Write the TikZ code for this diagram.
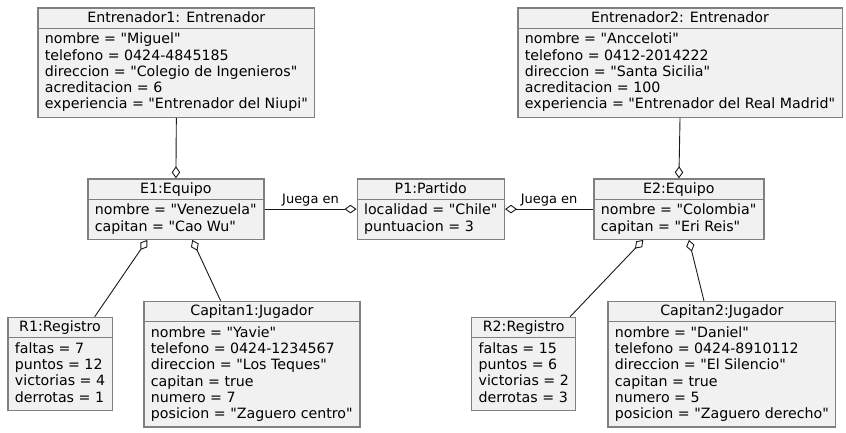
\documentclass[tikz,border=0pt]{standalone}
\usepackage{fontspec}
\setmainfont{DejaVu Sans}[Ligatures=TeXOff]
\usepackage{xcolor}
\usepackage{tikz}
\usetikzlibrary{shapes.multipart, arrows.meta}
\definecolor{caja}{HTML}{F1F1F1}
\definecolor{borde}{HTML}{808080}
\definecolor{linea}{HTML}{181818}
\newcommand{\cab}{\rule[-3pt]{0pt}{15pt}}
\newcommand{\ini}{\rule{0pt}{13pt}}
\newcommand{\fin}{\rule[-5.7pt]{0pt}{5.7pt}}
\tikzstyle{objeto} = [rectangle split, rectangle split parts=2, rectangle split part align={center,left}, align=left, anchor=north west, inner xsep=7pt, inner ysep=2pt, draw=borde, line width=1.2pt, fill=caja, font=\fontsize{14.2}{16.3}\selectfont]
\tikzstyle{agg} = [draw=linea, line width=0.9pt, -{Diamond[open, length=12pt, width=8.5pt]}]
\tikzstyle{etiqueta} = [above, inner sep=2.5pt, font=\fontsize{13}{15}\selectfont]

\begin{document}
\begin{tikzpicture}[x=1pt, y=-1pt]
\useasboundingbox (0,0) rectangle (846,432);

% Nodes
\node (ent1) [objeto, minimum width=276pt] at (37.3,7.3) {\cab Entrenador1: Entrenador\nodepart{two}\ini nombre = "Miguel"\\telefono = 0424-4845185\\direccion = "Colegio de Ingenieros"\\acreditacion = 6\\experiencia = "Entrenador del Niupi"\fin};
\node (ent2) [objeto, minimum width=323.4pt] at (517.3,7.3) {\cab Entrenador2: Entrenador\nodepart{two}\ini nombre = "Ancceloti"\\telefono = 0412-2014222\\direccion = "Santa Sicilia"\\acreditacion = 100\\experiencia = "Entrenador del Real Madrid"\fin};
\node (e1) [objeto, minimum width=176pt] at (87.3,178.3) {\cab E1:Equipo\nodepart{two}\ini nombre = "Venezuela"\\capitan = "Cao Wu"\fin};
\node (p1) [objeto, minimum width=142.5pt] at (356.5,178.3) {\cab P1:Partido\nodepart{two}\ini localidad = "Chile"\\puntuacion = 3\fin};
\node (e2) [objeto, minimum width=170pt] at (593.3,178.3) {\cab E2:Equipo\nodepart{two}\ini nombre = "Colombia"\\capitan = "Eri Reis"\fin};
\node (r1) [objeto, minimum width=101.4pt] at (7.3,316.7) {\cab R1:Registro\nodepart{two}\ini faltas = 7\\puntos = 12\\victorias = 4\\derrotas = 1\fin};
\node (c1) [objeto, minimum width=216pt] at (143.3,300.7) {\cab Capitan1:Jugador\nodepart{two}\ini nombre = "Yavie"\\telefono = 0424-1234567\\direccion = "Los Teques"\\capitan = true\\numero = 7\\posicion = "Zaguero centro"\fin};
\node (r2) [objeto, minimum width=101.7pt] at (471,316.7) {\cab R2:Registro\nodepart{two}\ini faltas = 15\\puntos = 6\\victorias = 2\\derrotas = 3\fin};
\node (c2) [objeto, minimum width=227.7pt] at (607.3,300.7) {\cab Capitan2:Jugador\nodepart{two}\ini nombre = "Daniel"\\telefono = 0424-8910112\\direccion = "El Silencio"\\capitan = true\\numero = 5\\posicion = "Zaguero derecho"\fin};

% Arrows
\draw [agg] (ent1.south) -- (e1.north);
\draw [agg] (ent2.south) -- (e2.north);
\draw [agg] (e1.east) -- node [etiqueta] {Juega en} (p1.west);
\draw [agg] (e2.west) -- node [etiqueta] {Juega en} (p1.east);
\draw [agg] ([xshift=34.7pt]r1.north) -- ([xshift=-28.6pt]e1.south);
\draw [agg] ([xshift=-31.3pt]c1.north) -- ([xshift=16.4pt]e1.south);
\draw [agg] ([xshift=46.4pt]r2.north) -- ([xshift=-35.6pt]e2.south);
\draw [agg] ([xshift=-17.9pt]c2.north) -- ([xshift=10pt]e2.south);

\end{tikzpicture}
\end{document}
